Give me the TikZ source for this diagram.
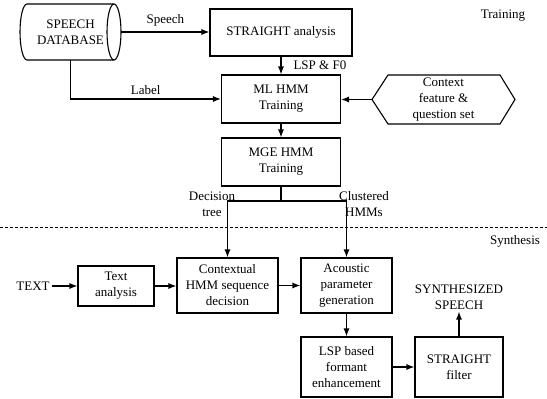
\documentclass[tikz,border=0pt]{standalone}
\usepackage{fontspec}
\setmainfont{Liberation Serif}
\usetikzlibrary{arrows.meta}
\begin{document}
\begin{tikzpicture}[x=1pt,y=-1pt,
  every node/.style={font=\fontsize{13}{16}\selectfont, align=center, inner sep=2pt},
  blk/.style={draw, line width=1.1pt, minimum width=#1, inner sep=1pt},
  arr/.style={line width=1.1pt, -{Latex[length=8pt,width=6pt]}},
  ln/.style={line width=1.1pt}
]
\useasboundingbox (0,0) rectangle (547,399);
% database cylinder
\draw[ln] (114,4) -- (27,4) arc[start angle=90, end angle=270, x radius=7pt, y radius=28pt] -- (114,60);
\draw[ln] (114,32) ellipse [x radius=7pt, y radius=28pt];
\node (db) [minimum width=101pt, minimum height=56pt] at (70.5,32) {SPEECH\\DATABASE};
% training boxes
\node (sa) [blk=142pt, minimum height=47pt] at (281,32.5) {STRAIGHT analysis};
\node (ml) [blk=119pt, minimum height=48pt] at (281,99) {ML HMM\\Training};
\node (mge) [blk=119pt, minimum height=48pt] at (281,162) {MGE HMM\\Training};
% context hexagon
\draw[ln] (372,99.5) -- (388,75) -- (500,75) -- (515,99.5) -- (500,124) -- (388,124) -- cycle;
\node (ctx) [minimum width=143pt, minimum height=49pt] at (443.5,99.5) {Context\\feature \&\\question set};
% training connectors
\draw[arr] (db.east) -- (sa.west |- db.east) node[midway, above=3pt] (lspeech) {Speech};
\draw[arr] (sa.south) -- (ml.north) node[pos=0.5, right=10pt] (llsp) {LSP \& F0};
\draw[arr] (db.south) |- (ml.west) node[pos=0.75, above=2pt] (llabel) {Label};
\draw[arr] (ctx.west) -- (ml.east |- ctx.west);
\draw[arr] (ml.south) -- (mge.north);
% section labels and divider
\node (ltrain) at (503,16) {Training};
\node (lsyn) at (515,241) {Synthesis};
\draw[line width=0.8pt, dash pattern=on 3pt off 2pt] (0,227) -- (547,227);
% synthesis boxes
\node (text) at (33,286) {TEXT};
\node (ta) [blk=76pt, minimum height=40pt] at (116,286) {Text\\analysis};
\node (cd) [blk=101pt, minimum height=55pt] at (227.5,285.5) {Contextual\\HMM sequence\\decision};
\node (ac) [blk=91pt, minimum height=55pt] at (346.5,285.5) {Acoustic\\parameter\\generation};
\node (lsp) [blk=91pt, minimum height=60pt] at (346.5,367) {LSP based\\formant\\enhancement};
\node (sf) [blk=88pt, minimum height=60pt] at (459,367) {STRAIGHT\\filter};
\node (syn) at (459,297) {SYNTHESIZED\\SPEECH};
% branch
\coordinate (j) at (281,201);
\draw[ln] (mge.south) -- (j);
\draw[arr] (j) -| (cd.north);
\draw[arr] (j) -| (ac.north);
\node (ldec) at (212,204.5) {Decision\\tree};
\node (lclu) at (364,204.5) {Clustered\\HMMs};
% synthesis connectors
\draw[arr] (text.east) -- (ta.west);
\draw[arr] (ta.east) -- (cd.west |- ta.east);
\draw[arr] (cd.east) -- (ac.west);
\draw[arr] (ac.south) -- (lsp.north);
\draw[arr] (lsp.east) -- (sf.west);
\draw[arr] (sf.north) -- (syn.south);
\end{tikzpicture}
\end{document}
